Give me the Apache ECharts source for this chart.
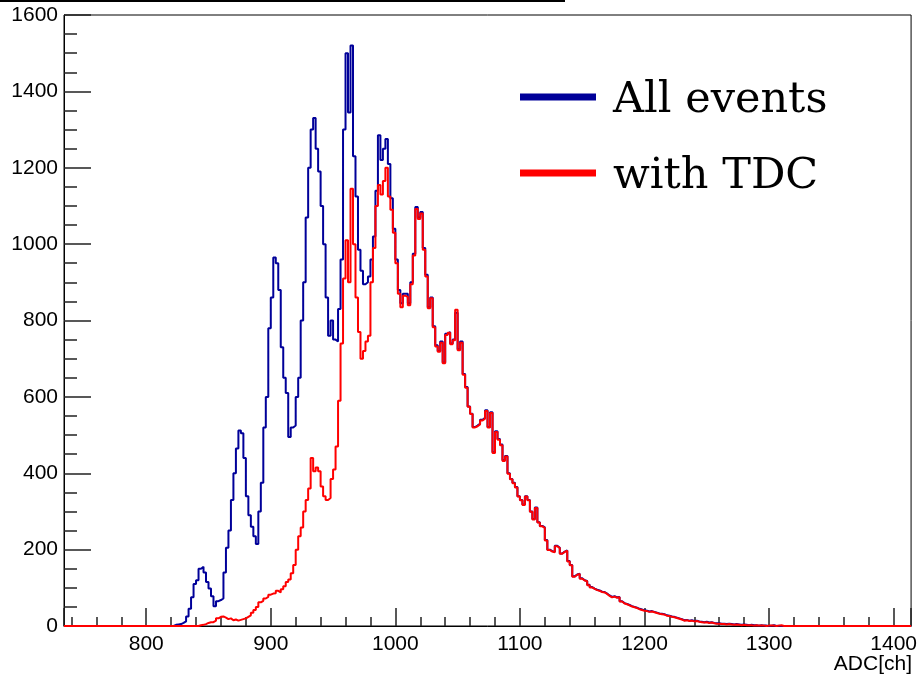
<!DOCTYPE html>
<html>
<head>
<meta charset="utf-8">
<title>ADC spectrum</title>
<script src="https://cdn.jsdelivr.net/npm/echarts@6/dist/echarts.min.js"></script>
<style>
    html, body { margin: 0; padding: 0; background: #fff; }
    #chart_box { width: 920px; height: 682px; }
</style>
</head>
<body>
<div id="chart_box"></div>
<script>
// histogram range and binning (ADC channels)
var xRange = [734, 1414];
var binStart = 820;
var binWidth = 2;

// counts per 2-channel bin, starting at channel 820
var allEvents = [
    0, 3, 4, 5, 8, 12, 25, 45, 75, 110,
    120, 150, 155, 140, 115, 98, 78, 52, 65, 68,
    72, 140, 205, 250, 330, 400, 465, 512, 505, 440,
    340, 290, 260, 235, 215, 300, 375, 520, 600, 780,
    860, 965, 950, 880, 730, 650, 610, 495, 520, 525,
    600, 650, 800, 900, 1070, 1200, 1300, 1330, 1250, 1190,
    1100, 1000, 860, 760, 800, 750, 745, 830, 960, 1300,
    1500, 1345, 1520, 1230, 1125, 985, 930, 895, 900, 915,
    960, 1020, 1140, 1285, 1220, 1250, 1275, 1210, 1120, 1040,
    960, 880, 845, 870, 870, 845, 900, 975, 1097, 1070,
    1084, 990, 920, 835, 860, 785, 735, 720, 745, 690,
    765, 770, 740, 750, 820, 725, 745, 660, 626, 575,
    556, 521, 525, 530, 540, 545, 565, 521, 560, 455,
    510, 490, 475, 434, 445, 400, 385, 375, 364, 340,
    330, 318, 340, 330, 300, 280, 310, 272, 262, 258,
    225, 200, 196, 194, 210, 205, 190, 195, 198, 170,
    160, 130, 135, 137, 125, 120, 118, 108, 102, 98,
    95, 93, 90, 89, 85, 80, 76, 78, 75, 76,
    65, 60, 58, 55, 52, 50, 48, 45, 43, 41,
    40, 38, 39, 37, 35, 33, 32, 31, 28, 27,
    25, 24, 22, 20, 18, 15, 16, 14, 15, 13,
    14, 12, 11, 10, 11, 9, 10, 8, 7, 7,
    6, 6, 5, 6, 5, 4, 5, 4, 3, 4,
    3, 2, 3, 2, 2, 1, 2, 1, 1, 0,
    1, 2, 0, 1, 0, 0, 0, 0, 0, 0
];

var withTDC = [
    0, 0, 0, 0, 0, 0, 0, 0, 0, 0,
    0, 2, 3, 5, 8, 10, 10, 14, 20, 24,
    25, 22, 18, 20, 15, 17, 14, 16, 18, 20,
    24, 28, 35, 42, 50, 62, 66, 72, 76, 82,
    85, 86, 92, 88, 96, 104, 115, 122, 138, 160,
    200, 235, 258, 300, 330, 360, 440, 405, 415, 405,
    365, 340, 330, 335, 385, 410, 470, 590, 740, 910,
    1010, 900, 1145, 1000, 860, 770, 700, 720, 745, 760,
    900, 990, 1100, 1155, 1130, 1165, 1200, 1125, 1090, 1030,
    950, 870, 835, 865, 862, 840, 895, 970, 1092, 1066,
    1080, 985, 915, 832, 858, 782, 732, 718, 742, 688,
    762, 768, 738, 748, 828, 722, 742, 658, 624, 574,
    555, 520, 523, 528, 538, 543, 563, 520, 558, 453,
    508, 488, 473, 432, 444, 399, 384, 374, 363, 339,
    329, 317, 339, 329, 299, 279, 309, 271, 261, 257,
    224, 199, 195, 193, 209, 204, 189, 194, 197, 169,
    159, 129, 134, 136, 124, 119, 117, 107, 101, 97,
    94, 92, 89, 88, 84, 79, 75, 77, 74, 75,
    64, 59, 57, 54, 51, 49, 47, 44, 42, 40,
    39, 37, 38, 36, 34, 32, 31, 30, 27, 26,
    24, 23, 21, 19, 17, 14, 15, 13, 14, 12,
    13, 11, 10, 9, 10, 8, 9, 7, 6, 6,
    5, 5, 4, 5, 4, 3, 4, 3, 2, 3,
    2, 2, 2, 1, 2, 1, 1, 1, 0, 1,
    1, 1, 0, 1, 2, 0, 0, 0, 0, 0
];

var seriesNames = ['All events', 'with TDC'];
var seriesColors = ['#000099', '#ff0000'];

// turn bin contents into step points [lowEdge, count]
function toSteps(counts) {
    var pts = [[xRange[0], 0]];
    for (var i = 0; i < counts.length; i++) {
        pts.push([binStart + i * binWidth, counts[i]]);
    }
    pts.push([binStart + counts.length * binWidth, 0]);
    pts.push([xRange[1], 0]);
    return pts;
}

function histSeries(name, counts, color) {
    return {
        name: name,
        type: 'line',
        step: 'end',
        data: toSteps(counts),
        showSymbol: false,
        symbol: 'none',
        clip: true,
        lineStyle: { color: color, width: 2 },
        itemStyle: { color: color },
        emphasis: { disabled: true }
    };
}

var axisFont = { fontFamily: 'Liberation Sans', fontSize: 21, color: '#000' };

// legend bar sits in the upper part of its box so it lines up a bit above the text centre
var legendIcon = 'path://M0,0 L76,0 L76,7 L0,7 Z M0,15 L0,15 Z';

var option = {
    animation: false,
    backgroundColor: '#fff',
    title: {
        text: 'ADC[ch]',
        right: 8,
        top: 654,
        padding: 0,
        textStyle: { fontFamily: 'Liberation Sans', fontSize: 21, fontWeight: 'normal', color: '#000' }
    },
    legend: {
        orient: 'vertical',
        left: 520,
        top: 76,
        padding: 0,
        itemWidth: 76,
        itemHeight: 15,
        itemGap: 26,
        icon: legendIcon,
        itemStyle: { borderWidth: 0 },
        selectedMode: false,
        data: seriesNames,
        textStyle: {
            fontFamily: 'DejaVu Serif',
            fontSize: 43,
            lineHeight: 50,
            color: '#000',
            padding: [0, 0, 0, 12]
        }
    },
    grid: {
        left: 64,
        right: 7,
        top: 15,
        bottom: 56,
        show: true,
        borderColor: '#000',
        borderWidth: 1,
        backgroundColor: 'transparent'
    },
    xAxis: {
        type: 'value',
        min: xRange[0],
        max: xRange[1],
        splitNumber: 7,
        axisLine: { show: true, lineStyle: { color: '#000', width: 1 } },
        axisTick: { show: true, inside: true, length: 18, lineStyle: { color: '#222', width: 1.5 } },
        minorTick: { show: true, splitNumber: 5, length: 9, lineStyle: { color: '#222', width: 1.5 } },
        splitLine: { show: false },
        axisLabel: {
            margin: 8,
            showMinLabel: false,
            showMaxLabel: false,
            fontFamily: axisFont.fontFamily,
            fontSize: axisFont.fontSize,
            color: axisFont.color,
            formatter: function(v) { return v % 100 === 0 ? String(v) : ''; }
        }
    },
    yAxis: {
        type: 'value',
        min: 0,
        max: 1600,
        interval: 200,
        axisLine: { show: true, lineStyle: { color: '#000', width: 1 } },
        axisTick: { show: true, inside: true, length: 27, lineStyle: { color: '#222', width: 1.5 } },
        minorTick: { show: true, splitNumber: 4, length: 13, lineStyle: { color: '#222', width: 1.5 } },
        splitLine: { show: false },
        axisLabel: {
            margin: 6,
            fontFamily: axisFont.fontFamily,
            fontSize: axisFont.fontSize,
            color: axisFont.color,
            formatter: function(v) { return String(v); }
        }
    },
    graphic: [{
        type: 'line',
        shape: { x1: 0, y1: 1, x2: 565, y2: 1 },
        style: { stroke: '#000', lineWidth: 2 }
    }],
    series: [
        histSeries(seriesNames[0], allEvents, seriesColors[0]),
        histSeries(seriesNames[1], withTDC, seriesColors[1])
    ]
};

var myChart = echarts.init(document.getElementById('chart_box'));
myChart.setOption(option);

window.onresize = function() {
    myChart.resize();
};
</script>
</body>
</html>
